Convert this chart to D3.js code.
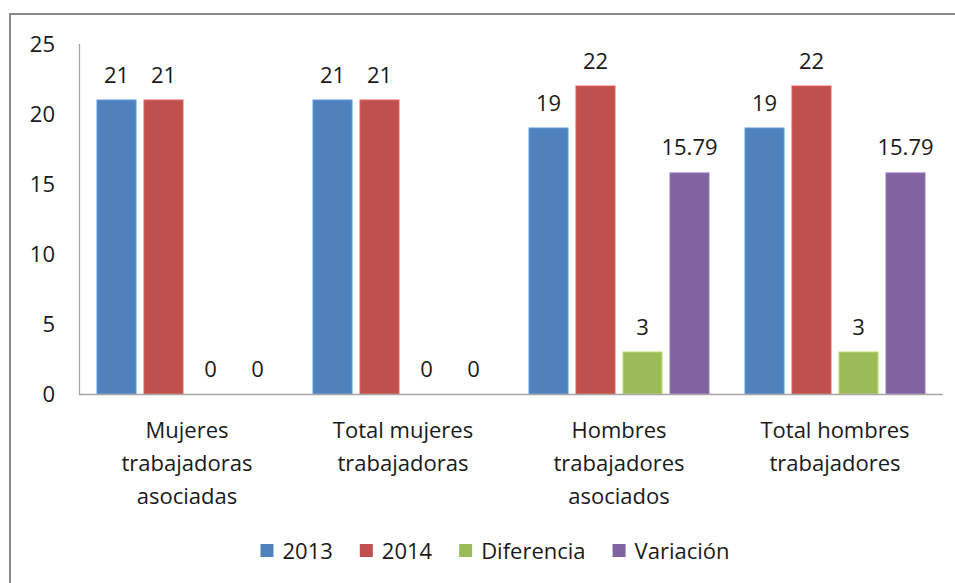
<!DOCTYPE html>
<html><head><meta charset="utf-8">
<script src="https://cdn.jsdelivr.net/npm/d3@7"></script>
<style>body{margin:0;background:#fff}svg{display:block}text{font-family:"Open Sans",Lato,sans-serif;fill:#1a1a1a}</style>
</head><body><svg id="c" width="955" height="583"></svg>
<script>
const categories = [["Mujeres","trabajadoras","asociadas"],["Total mujeres","trabajadoras"],["Hombres","trabajadores","asociados"],["Total hombres","trabajadores"]];
const seriesNames = ["2013","2014","Diferencia","Variación"];
const colors = ["#4F81BD","#C0504D","#9BBB59","#8064A2"];
const v2013 = [21,21,19,19];
const v2014 = [21,21,22,22];
const vDif = [0,0,3,3];
const vVar = [0,0,15.79,15.79];
const yTicks = [0,5,10,15,20,25];
const series = [v2013,v2014,vDif,vVar];
const FS = 22;

const svg = d3.select("#c");
svg.append("rect").attr("x",10).attr("y",14).attr("width",960).attr("height",600)
  .attr("fill","none").attr("stroke","#888").attr("stroke-width",2);

const pL=79,pR=943,pT=44,pB=394;
const x0 = d3.scaleBand().domain(d3.range(4)).range([pL,pR]).paddingInner(0).paddingOuter(0);
const x1 = d3.scaleBand().domain(d3.range(4)).range([18,216-18]).paddingInner(0.17);
const y = d3.scaleLinear().domain([0,25]).range([pB,pT]);

// bars
const g = svg.append("g");
categories.forEach((c,i)=>{
  series.forEach((s,j)=>{
    const v=s[i];
    const bx=x0(i)+x1(j), bw=x1.bandwidth();
    if(v>0) g.append("rect").attr("x",bx).attr("y",y(v)).attr("width",bw).attr("height",y(0)-y(v))
      .attr("fill",colors[j]).attr("stroke",d3.color(colors[j]).brighter(0.5)).attr("stroke-width",1);
    g.append("text").attr("x",bx+bw/2).attr("y",y(v)-17.5).attr("text-anchor","middle")
      .attr("font-size",FS).text(v);
  });
});

// axes
svg.append("line").attr("x1",pL+0.5).attr("x2",pL+0.5).attr("y1",pT).attr("y2",pB).attr("stroke","#a6a6a6").attr("stroke-width",1.3);
svg.append("line").attr("x1",pL).attr("x2",pR).attr("y1",pB+0.5).attr("y2",pB+0.5).attr("stroke","#a6a6a6").attr("stroke-width",1.3);
yTicks.forEach(t=>{
  svg.append("text").attr("x",55).attr("y",y(t)+8).attr("text-anchor","end").attr("font-size",FS).text(t);
});
categories.forEach((lines,i)=>{
  const cx=x0(i)+x0.bandwidth()/2;
  lines.forEach((l,k)=>{
    svg.append("text").attr("x",cx).attr("y",438+k*33).attr("text-anchor","middle").attr("font-size",FS).text(l);
  });
});

// legend
const lg = svg.append("g");
let lx=0;
seriesNames.forEach((n,j)=>{
  lg.append("rect").attr("x",lx).attr("y",544).attr("width",13).attr("height",13).attr("fill",colors[j]);
  const t=lg.append("text").attr("x",lx+22).attr("y",559).attr("font-size",FS).text(n);
  lx += 22 + t.node().getComputedTextLength() + 27;
});
const lw = lx-27;
lg.attr("transform",`translate(${495-lw/2},0)`);
</script></body></html>
